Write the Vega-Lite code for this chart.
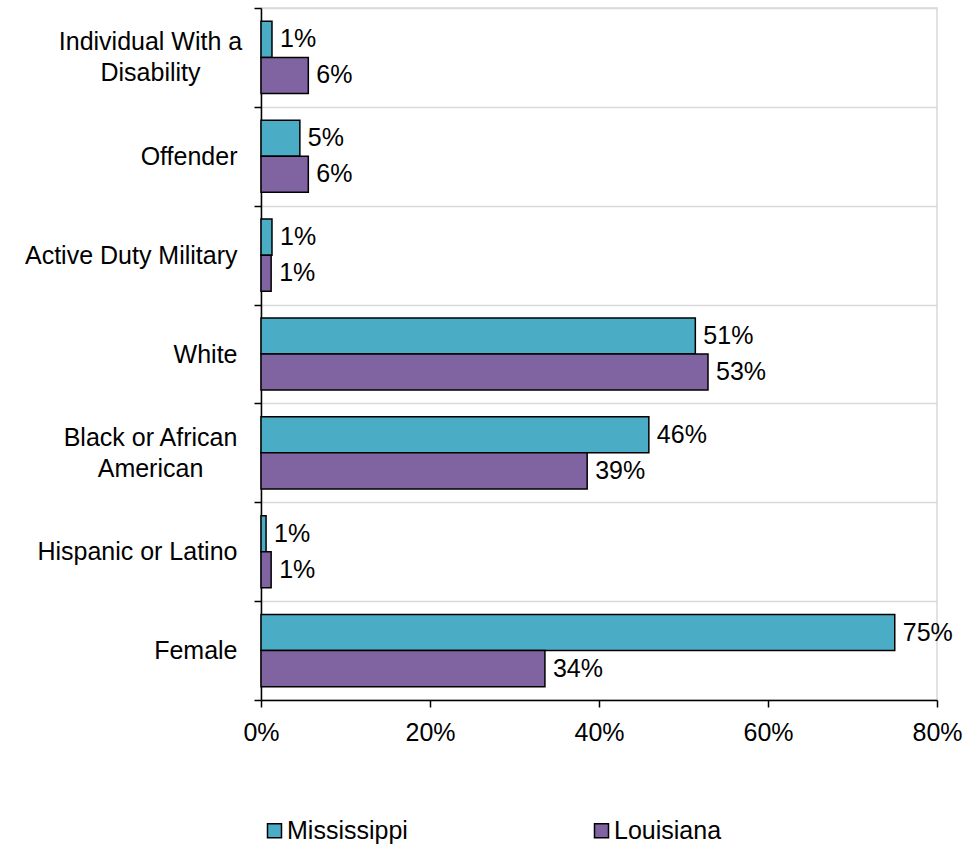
{
  "$schema": "https://vega.github.io/schema/vega-lite/v6.json",
  "width": 676,
  "height": 692,
  "autosize": "none",
  "padding": {"left": 261, "top": 8, "right": 30, "bottom": 144},
  "background": "white",
  "config": {
    "font": "Liberation Sans",
    "view": {"stroke": "#D9D9D9", "strokeWidth": 1.5}
  },
  "data": {
    "values": [
      {"category": "Individual With a Disability", "state": "Mississippi", "value": 0.013},
      {"category": "Individual With a Disability", "state": "Louisiana", "value": 0.056},
      {"category": "Offender", "state": "Mississippi", "value": 0.046},
      {"category": "Offender", "state": "Louisiana", "value": 0.056},
      {"category": "Active Duty Military", "state": "Mississippi", "value": 0.013},
      {"category": "Active Duty Military", "state": "Louisiana", "value": 0.012},
      {"category": "White", "state": "Mississippi", "value": 0.514},
      {"category": "White", "state": "Louisiana", "value": 0.529},
      {"category": "Black or African American", "state": "Mississippi", "value": 0.459},
      {"category": "Black or African American", "state": "Louisiana", "value": 0.386},
      {"category": "Hispanic or Latino", "state": "Mississippi", "value": 0.006},
      {"category": "Hispanic or Latino", "state": "Louisiana", "value": 0.012},
      {"category": "Female", "state": "Mississippi", "value": 0.75},
      {"category": "Female", "state": "Louisiana", "value": 0.336}
    ]
  },
  "encoding": {
    "y": {
      "field": "category",
      "type": "nominal",
      "sort": ["Individual With a Disability", "Offender", "Active Duty Military", "White", "Black or African American", "Hispanic or Latino", "Female"],
      "scale": {"paddingInner": 0, "paddingOuter": 0},
      "axis": {
        "title": null,
        "tickBand": "extent",
        "grid": true,
        "gridColor": "#D9D9D9",
        "gridWidth": 1.5,
        "domainColor": "black",
        "domainWidth": 1.5,
        "tickColor": "black",
        "tickSize": 7,
        "tickWidth": 1.5,
        "labelFontSize": 25,
        "labelColor": "black",
        "labelLimit": 300,
        "labelLineHeight": 31,
        "labelAlign": {"condition": {"test": "datum.value == 'Individual With a Disability' || datum.value == 'Black or African American'", "value": "center"}, "value": "right"},
        "labelPadding": {"condition": {"test": "datum.value == 'Individual With a Disability' || datum.value == 'Black or African American'", "value": 104}, "value": 17},
        "labelOffset": {"condition": {"test": "datum.value == 'Individual With a Disability' || datum.value == 'Black or African American'", "value": -15.5}, "value": 0},
        "labelExpr": "datum.value == 'Individual With a Disability' ? ['Individual With a', 'Disability'] : datum.value == 'Black or African American' ? ['Black or African', 'American'] : datum.value"
      }
    },
    "yOffset": {
      "field": "state",
      "type": "nominal",
      "sort": ["Mississippi", "Louisiana"],
      "scale": {"paddingInner": 0, "paddingOuter": 0.37}
    },
    "x": {
      "field": "value",
      "type": "quantitative",
      "scale": {"domain": [0, 0.8]},
      "axis": {
        "title": null,
        "format": ".0%",
        "values": [0, 0.2, 0.4, 0.6, 0.8],
        "grid": false,
        "domainColor": "black",
        "domainWidth": 1.5,
        "tickColor": "black",
        "tickSize": 7,
        "tickWidth": 1.5,
        "labelFontSize": 25,
        "labelColor": "black",
        "labelPadding": 13,
        "labelFlush": false
      }
    }
  },
  "layer": [
    {
      "mark": {"type": "bar", "stroke": "black", "strokeWidth": 1.5},
      "encoding": {
        "color": {
          "field": "state",
          "type": "nominal",
          "scale": {"domain": ["Mississippi", "Louisiana"], "range": ["#4BACC6", "#8064A2"]},
          "legend": {
            "title": null,
            "orient": "none",
            "legendX": 1,
            "legendY": 810,
            "direction": "horizontal",
            "columns": 2,
            "columnPadding": 181,
            "symbolType": "square",
            "symbolSize": 196,
            "symbolStrokeColor": "black",
            "symbolStrokeWidth": 1.5,
            "labelFontSize": 25,
            "labelColor": "black",
            "labelOffset": 0
          }
        }
      }
    },
    {
      "mark": {"type": "text", "align": "left", "baseline": "middle", "dx": 8, "fontSize": 25, "color": "black"},
      "encoding": {
        "text": {"field": "value", "type": "quantitative", "format": ".0%"}
      }
    }
  ]
}
